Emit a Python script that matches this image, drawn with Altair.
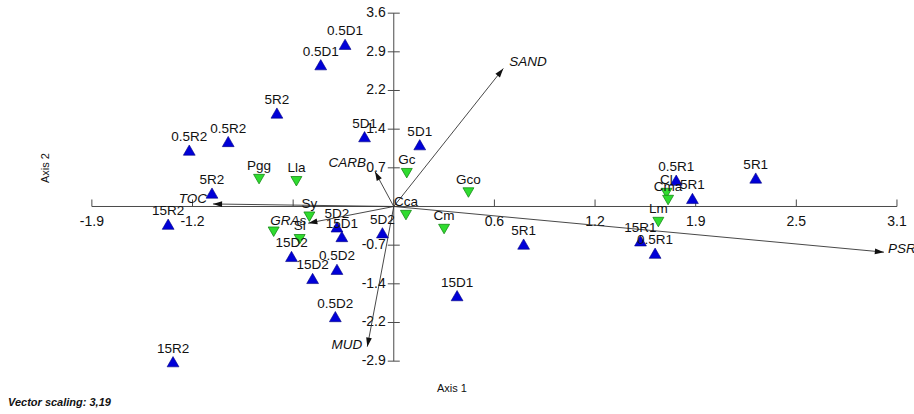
import math
import altair as alt
import pandas as pd

# ---- ordination scores -------------------------------------------------
site_labels = ["0.5D1", "0.5D1", "5R2", "0.5R2", "0.5R2", "5D1", "5D1", "5R2",
               "15R2", "15R2", "5D2", "5D2", "15D1", "15D2", "15D2", "0.5D2",
               "0.5D2", "15D1", "5R1", "15R1", "0.5R1", "0.5R1", "5R1", "5R1"]
site_ax1 = [-0.30, -0.45, -0.72, -1.02, -1.26, -0.18, 0.16, -1.12,
            -1.39, -1.36, -0.07, -0.35, -0.32, -0.63, -0.50, -0.35,
            -0.36, 0.39, 0.80, 1.52, 1.61, 1.74, 1.84, 2.23]
site_ax2 = [3.02, 2.64, 1.74, 1.21, 1.05, 1.30, 1.15, 0.25,
            -0.33, -2.89, -0.49, -0.38, -0.56, -0.93, -1.34, -1.17,
            -2.05, -1.66, -0.70, -0.64, -0.87, 0.49, 0.15, 0.53]

species_labels = ["Pgg", "Lla", "Gc", "Gco", "Cca", "Cm", "Sy", "Sl", "",
                  "Cl", "Cma", "Lm"]
species_ax1 = [-0.83, -0.60, 0.08, 0.46, 0.075, 0.31, -0.52, -0.58, -0.74,
               1.68, 1.69, 1.63]
species_ax2 = [0.51, 0.47, 0.62, 0.26, -0.16, -0.42, -0.19, -0.61, -0.47,
               0.25, 0.12, -0.29]

env_labels = ["SAND", "PSR", "MUD", "TOC", "CARB", "GRAs"]
env_ax1 = [0.675, 3.02, -0.163, -1.114, -0.116, -0.527]
env_ax2 = [2.57, -0.85, -2.61, 0.047, 0.65, -0.31]

# axis ticks (equal steps, labels rounded to one decimal)
x_ticks = [-1.86, -1.24, -0.62, 0.0, 0.62, 1.24, 1.86, 2.48, 3.10]
x_tick_text = ["-1.9", "-1.2", "", "", "0.6", "1.2", "1.9", "2.5", "3.1"]
y_ticks = [-2.88, -2.16, -1.44, -0.72, 0.72, 1.44, 2.16, 2.88, 3.60]
y_tick_text = ["-2.9", "-2.2", "-1.4", "-0.7", "0.7", "1.4", "2.2", "2.9", "3.6"]

# ---- layout ------------------------------------------------------------
W, H = 914, 414
X_MIN, X_MAX = -2.426, 3.205
Y_MIN, Y_MAX = -3.864, 3.845
SX = W / (X_MAX - X_MIN)   # pixels per unit, axis 1
SY = H / (Y_MAX - Y_MIN)   # pixels per unit, axis 2
FONT = "Liberation Sans"

xs = alt.Scale(domain=[X_MIN, X_MAX], nice=False, zero=False)
ys = alt.Scale(domain=[Y_MIN, Y_MAX], nice=False, zero=False)


def X(f):
    return alt.X(f, type="quantitative", scale=xs, axis=None)


def Y(f):
    return alt.Y(f, type="quantitative", scale=ys, axis=None)


def X2(f):
    return alt.X2(f)


def Y2(f):
    return alt.Y2(f)


# ---- frame: cross-hair axes through the origin -------------------------
axes_df = pd.DataFrame({
    "x1": [x_ticks[0], 0.0], "x2": [x_ticks[-1], 0.0],
    "y1": [0.0, y_ticks[0]], "y2": [0.0, y_ticks[-1]],
})
axes = alt.Chart(axes_df).mark_rule(color="#4a4a4a", strokeWidth=1).encode(
    x=X("x1"), x2=X2("x2"), y=Y("y1"), y2=Y2("y2"))

xt_df = pd.DataFrame({"v": x_ticks, "z": 0.0, "t": x_tick_text})
yt_df = pd.DataFrame({"v": y_ticks, "z": 0.0, "t": y_tick_text})

x_tick_marks = alt.Chart(xt_df).mark_rule(
    color="#4a4a4a", strokeWidth=1, y2Offset=-7).encode(
    x=X("v"), y=Y("z"), y2=Y2("z"))
y_tick_marks = alt.Chart(yt_df).mark_rule(
    color="#4a4a4a", strokeWidth=1, xOffset=-6, x2Offset=6).encode(
    y=Y("v"), x=X("z"), x2=X2("z"))

x_tick_labels = alt.Chart(xt_df).mark_text(
    font=FONT, fontSize=14, color="#111", baseline="middle", dy=16).encode(
    x=X("v"), y=Y("z"), text="t:N")
y_tick_labels = alt.Chart(yt_df).mark_text(
    font=FONT, fontSize=14, color="#111", baseline="middle", align="right",
    dx=-8).encode(x=X("z"), y=Y("v"), text="t:N")

# ---- environmental vectors ---------------------------------------------
env_df = pd.DataFrame({"lab": env_labels, "x": env_ax1, "y": env_ax2})
env_df["ox"] = 0.0
env_df["oy"] = 0.0
HEAD_R = 4.8
px = env_df["x"] * SX
py = env_df["y"] * SY
plen = (px ** 2 + py ** 2) ** 0.5
env_df["hx"] = env_df["x"] - HEAD_R * (px / plen) / SX
env_df["hy"] = env_df["y"] - HEAD_R * (py / plen) / SY
env_df["ang"] = [math.degrees(math.atan2(a, b)) % 360 for a, b in zip(px, py)]

vec_lines = alt.Chart(env_df).mark_rule(color="#333333", strokeWidth=0.9).encode(
    x=X("ox"), y=Y("oy"), x2=X2("x"), y2=Y2("y"))
vec_heads = alt.Chart(env_df).mark_point(
    shape="M0,-1L0.6,0.9L-0.6,0.9Z", filled=True, color="#111111",
    opacity=1, size=92).encode(
    x=X("hx"), y=Y("hy"), angle=alt.Angle("ang:Q", scale=None))

# label placement next to each arrow head
env_label_style = {
    "SAND": dict(align="left", dx=6, dy=-6),
    "PSR": dict(align="left", dx=4, dy=-3),
    "MUD": dict(align="right", dx=-5, dy=-2),
    "TOC": dict(align="right", dx=-6, dy=-5),
    "CARB": dict(align="right", dx=-9, dy=-9),
    "GRAs": dict(align="right", dx=-2, dy=-2),
}
vec_labels = [
    alt.Chart(env_df[env_df["lab"] == name]).mark_text(
        font=FONT, fontSize=13.5, fontStyle="italic", color="#111",
        baseline="middle", **style).encode(x=X("x"), y=Y("y"), text="lab:N")
    for name, style in env_label_style.items()
]

# ---- sites (blue) and species (green) ----------------------------------
site_df = pd.DataFrame({"lab": site_labels, "x": site_ax1, "y": site_ax2})
sp_df = pd.DataFrame({"lab": species_labels, "x": species_ax1, "y": species_ax2})

site_pts = alt.Chart(site_df).mark_point(
    shape="triangle-up", filled=True, color="#0000d8", opacity=1, size=140,
    stroke="#000080", strokeWidth=0.6).encode(x=X("x"), y=Y("y"))
site_txt = alt.Chart(site_df).mark_text(
    font=FONT, fontSize=13.5, color="#111", baseline="middle", dy=-13).encode(
    x=X("x"), y=Y("y"), text="lab:N")

sp_pts = alt.Chart(sp_df).mark_point(
    shape="triangle-down", filled=True, color="#2fdc2f", opacity=1, size=120,
    stroke="#148a14", strokeWidth=0.8).encode(x=X("x"), y=Y("y"))
sp_txt = alt.Chart(sp_df).mark_text(
    font=FONT, fontSize=13.5, color="#111", baseline="middle", dy=-13).encode(
    x=X("x"), y=Y("y"), text="lab:N")

# ---- titles and note ---------------------------------------------------
axis1 = alt.Chart().mark_text(
    text="Axis 1", font=FONT, fontSize=11, color="#111", align="center",
    baseline="middle").encode(x=alt.value(452), y=alt.value(389))
axis2 = alt.Chart().mark_text(
    text="Axis 2", font=FONT, fontSize=11, color="#111", align="center",
    baseline="middle", angle=270).encode(x=alt.value(46), y=alt.value(168))
note = alt.Chart().mark_text(
    text="Vector scaling: 3,19", font=FONT, fontSize=11, fontStyle="italic",
    fontWeight="bold", color="#111", align="left", baseline="middle").encode(
    x=alt.value(8), y=alt.value(403))

chart = alt.layer(
    axes, x_tick_marks, y_tick_marks, x_tick_labels, y_tick_labels,
    vec_lines, vec_heads, *vec_labels,
    site_pts, sp_pts, site_txt, sp_txt,
    axis1, axis2, note,
).properties(
    width=W, height=H, padding=0, background="white",
    autosize=alt.AutoSizeParams(type="none"),
).configure_view(stroke=None)

chart.save("out.html", embed_options={"renderer": "svg", "actions": False})
